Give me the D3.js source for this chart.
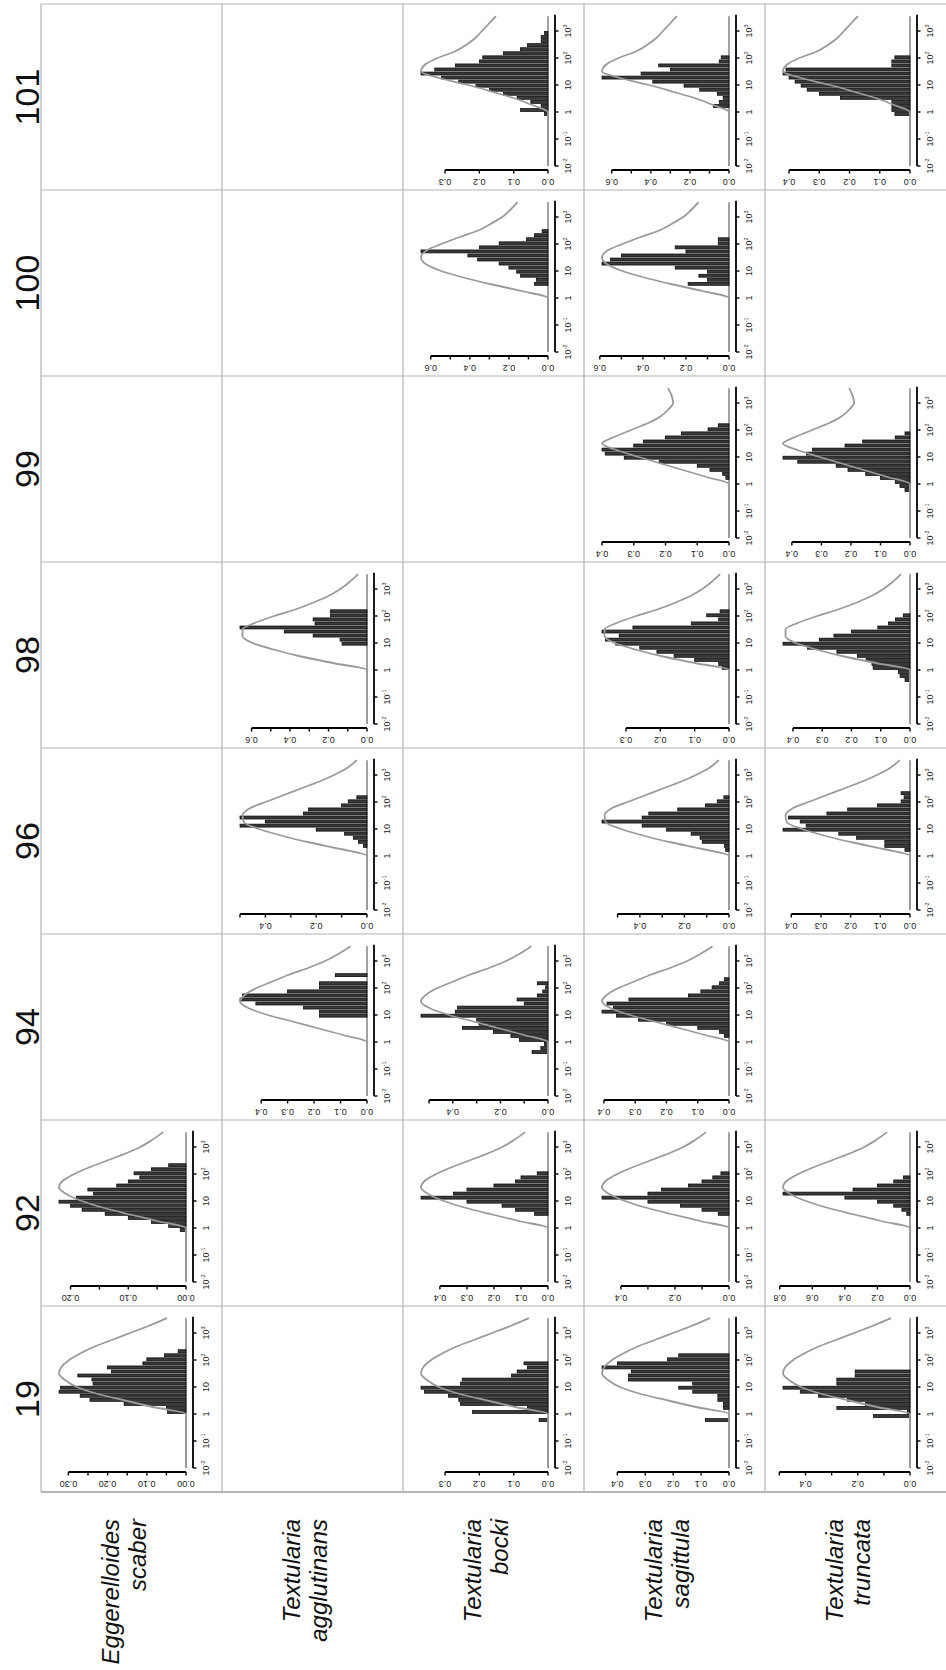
<!DOCTYPE html>
<html>
<head>
<meta charset="utf-8">
<script src="https://cdn.jsdelivr.net/npm/d3@7"></script>
<style>
  html, body { margin: 0; padding: 0; background: #fff; }
  svg { display: block; }
</style>
</head>
<body>
<svg id="fig" width="946" height="1670"></svg>
<script>
// ---- categories ----
const sites = ["19", "92", "94", "96", "98", "99", "100", "101"];
const speciesKeys = ["Egg", "agg", "boc", "sag", "tru"];
const speciesNames = [
  ["Eggerelloides", "scaber"],
  ["Textularia", "agglutinans"],
  ["Textularia", "bocki"],
  ["Textularia", "sagittula"],
  ["Textularia", "truncata"]
];

// ---- log grain-size axis ----
const logTicks = [-2, -1, 0, 1, 2, 3];
const logTickBase = ["10", "10", "1", "10", "10", "10"];
const logTickExp = ["-2", "-1", "", "", "2", "3"];
const binWidth = 0.15;          // histogram class width in log10 units
const logMin = -2, logMax = 3.55;

// ---- sediment grain-size curve per site (log10 size, relative height) ----
const curveLog = [0, 0.25, 0.5, 0.75, 1.0, 1.25, 1.5, 1.75, 2.0, 2.25, 2.5, 2.75, 3.0, 3.25, 3.55];
const curve19  = [0, 0.25, 0.48, 0.70, 0.86, 0.95, 1.00, 0.98, 0.92, 0.83, 0.72, 0.58, 0.44, 0.30, 0.15];
const curve92  = [0, 0.22, 0.44, 0.65, 0.82, 0.94, 1.00, 0.97, 0.88, 0.76, 0.62, 0.48, 0.36, 0.27, 0.18];
const curve94  = [0, 0.18, 0.38, 0.58, 0.78, 0.93, 1.00, 0.96, 0.87, 0.74, 0.61, 0.46, 0.33, 0.23, 0.13];
const curve96  = [0, 0.20, 0.45, 0.67, 0.85, 0.97, 0.98, 0.93, 0.80, 0.66, 0.52, 0.38, 0.26, 0.16, 0.08];
const curve98  = [0, 0.26, 0.52, 0.73, 0.90, 0.98, 0.98, 0.88, 0.73, 0.56, 0.42, 0.30, 0.21, 0.14, 0.07];
const curve99  = [0, 0.17, 0.35, 0.53, 0.71, 0.88, 1.00, 0.90, 0.77, 0.64, 0.54, 0.48, 0.44, 0.45, 0.48];
const curve100 = [0, 0.20, 0.44, 0.66, 0.84, 0.96, 1.00, 0.96, 0.84, 0.70, 0.55, 0.45, 0.36, 0.30, 0.24];
const curve101 = [0, 0.12, 0.26, 0.44, 0.63, 0.85, 1.00, 0.97, 0.87, 0.73, 0.64, 0.57, 0.52, 0.47, 0.41];
const siteCurves = {"19": curve19, "92": curve92, "94": curve94, "96": curve96,
                    "98": curve98, "99": curve99, "100": curve100, "101": curve101};

// ---- agglutinated grain histograms (density per class), first class start in log10 ----
const h19Egg = [0.047, 0.05, 0.158, 0.245, 0.27, 0.324, 0.32, 0.237, 0.24, 0.276, 0.19, 0.2, 0.11, 0.1, 0.055, 0.02];
const h19Boc = [0.026, 0, 0.22, 0.06, 0.255, 0.26, 0.29, 0.36, 0.37, 0.255, 0.25, 0.106, 0.09, 0.06, 0.07];
const h19Sag = [0.085, 0, 0, 0.02, 0.02, 0.04, 0.04, 0.13, 0.18, 0.13, 0.36, 0.36, 0.35, 0.455, 0.4, 0.22, 0.18];
const h19Tru = [0.14, 0.01, 0.28, 0.17, 0.24, 0.35, 0.42, 0.486, 0.28, 0.28, 0.21, 0.21];
const h92Egg = [0.01, 0.03, 0.06, 0.1, 0.14, 0.18, 0.2, 0.22, 0.19, 0.16, 0.17, 0.12, 0.1, 0.08, 0.09, 0.06, 0.03];
const h92Boc = [0.05, 0.12, 0.17, 0.3, 0.47, 0.35, 0.3, 0.2, 0.12, 0.1, 0.04];
const h92Sag = [0.04, 0.1, 0.18, 0.3, 0.47, 0.3, 0.25, 0.15, 0.1, 0.06, 0.03];
const h92Tru = [0.02, 0.05, 0.1, 0.2, 0.4, 0.78, 0.35, 0.2, 0.1, 0.04];
const h94Agg = [0.18, 0.18, 0.24, 0.42, 0.48, 0.47, 0.3, 0.18, 0.18, 0, 0.12];
const h94Boc = [0.067, 0.03, 0.015, 0.12, 0.156, 0.23, 0.36, 0.29, 0.3, 0.534, 0.39, 0.38, 0.1, 0.13, 0.045, 0.022, 0.01, 0.045];
const h94Sag = [0.015, 0.03, 0.1, 0.2, 0.29, 0.36, 0.406, 0.37, 0.39, 0.32, 0.13, 0.09, 0.054, 0.03, 0.015];
const h96Agg = [0.014, 0.034, 0.054, 0.088, 0.2, 0.5, 0.4, 0.5, 0.25, 0.23, 0.1, 0.074, 0.04];
const h96Sag = [0.015, 0.02, 0.12, 0.13, 0.17, 0.28, 0.39, 0.57, 0.39, 0.36, 0.23, 0.106, 0.053, 0.023];
const h96Tru = [0.017, 0.085, 0.085, 0.18, 0.24, 0.428, 0.35, 0.37, 0.41, 0.28, 0.21, 0.11, 0.03, 0.02, 0.03];
const h98Agg = [0.13, 0.14, 0.28, 0.43, 0.66, 0.27, 0.28, 0.19, 0.19];
const h98Sag = [0.02, 0.03, 0.1, 0.16, 0.21, 0.26, 0.33, 0.36, 0.32, 0.37, 0.28, 0.11, 0.03, 0.065, 0.026];
const h98Tru = [0.017, 0.034, 0.04, 0.126, 0.13, 0.15, 0.18, 0.25, 0.35, 0.434, 0.31, 0.26, 0.2, 0.11, 0.074, 0.05, 0.023];
const h99Sag = [0.01, 0.02, 0.06, 0.1, 0.22, 0.33, 0.39, 0.4, 0.3, 0.27, 0.2, 0.15, 0.066, 0.034];
const h99Tru = [0.017, 0.034, 0.05, 0.1, 0.15, 0.21, 0.25, 0.38, 0.43, 0.35, 0.33, 0.22, 0.16, 0.05, 0.017];
const h100Boc = [0.07, 0.06, 0.14, 0.16, 0.2, 0.25, 0.36, 0.41, 0.65, 0.35, 0.25, 0.11, 0.07, 0.03];
const h100Sag = [0.19, 0.1, 0.14, 0.1, 0.25, 0.59, 0.55, 0.5, 0.2, 0.25, 0.05, 0.05];
const h101Boc = [0.01, 0.08, 0.02, 0.05, 0.09, 0.13, 0.17, 0.21, 0.26, 0.31, 0.37, 0.33, 0.27, 0.2, 0.19, 0.13, 0.08, 0.06, 0.02, 0.02, 0.01];
const h101Sag = [0.08, 0.05, 0.03, 0.06, 0.15, 0.23, 0.39, 0.65, 0.45, 0.3, 0.36, 0.05, 0.04];
const h101Tru = [0.05, 0.06, 0.06, 0.06, 0.23, 0.3, 0.34, 0.36, 0.38, 0.4, 0.42, 0.41, 0.06, 0.06, 0.05];

// ---- density axis ticks and printed labels ----
const t005_020 = [0, 0.05, 0.10, 0.15, 0.20];
const t005_030 = [0, 0.05, 0.10, 0.15, 0.20, 0.25, 0.30];
const t01_03 = [0, 0.1, 0.2, 0.3];
const t01_04 = [0, 0.1, 0.2, 0.3, 0.4];
const t01_05 = [0, 0.1, 0.2, 0.3, 0.4, 0.5];
const t01_06 = [0, 0.1, 0.2, 0.3, 0.4, 0.5, 0.6];
const t02_08 = [0, 0.2, 0.4, 0.6, 0.8];
const l2dEgg20 = ["0.00", "", "0.10", "", "0.20"];
const l2dEgg30 = ["0.00", "", "0.10", "", "0.20", "", "0.30"];
const lAll3 = ["0.0", "0.1", "0.2", "0.3"];
const lAll4 = ["0.0", "0.1", "0.2", "0.3", "0.4"];
const lEven4 = ["0.0", "", "0.2", "", "0.4"];
const lEven5 = ["0.0", "", "0.2", "", "0.4", ""];
const lEven6 = ["0.0", "", "0.2", "", "0.4", "", "0.6"];
const lAll8 = ["0.0", "0.2", "0.4", "0.6", "0.8"];

// panel list: site, species, first class start (log10), densities, ticks, labels
const panels = [
  ["19", "Egg", 0.0,  h19Egg, t005_030, l2dEgg30],
  ["19", "boc", -0.3, h19Boc, t01_03, lAll3],
  ["19", "sag", -0.3, h19Sag, t01_04, lAll4],
  ["19", "tru", -0.15, h19Tru, t01_05, lEven5],
  ["92", "Egg", -0.15, h92Egg, t005_020, l2dEgg20],
  ["92", "boc", 0.45, h92Boc, t01_04, lAll4],
  ["92", "sag", 0.45, h92Sag, t01_04, lEven4],
  ["92", "tru", 0.45, h92Tru, t02_08, lAll8],
  ["94", "agg", 0.9,  h94Agg, t01_04, lAll4],
  ["94", "boc", -0.45, h94Boc, t01_05, lEven5],
  ["94", "sag", 0.15, h94Sag, t01_04, lAll4],
  ["96", "agg", 0.3,  h96Agg, t01_05, lEven5],
  ["96", "sag", 0.15, h96Sag, t01_05, lEven5],
  ["96", "tru", 0.15, h96Tru, t01_04, lAll4],
  ["98", "agg", 0.9,  h98Agg, t01_06, lEven6],
  ["98", "sag", 0.0,  h98Sag, t01_03, lAll3],
  ["98", "tru", -0.45, h98Tru, t01_04, lAll4],
  ["99", "sag", 0.15, h99Sag, t01_04, lAll4],
  ["99", "tru", -0.3, h99Tru, t01_04, lAll4],
  ["100", "boc", 0.45, h100Boc, t01_06, lEven6],
  ["100", "sag", 0.45, h100Sag, t01_06, lEven6],
  ["101", "boc", -0.15, h101Boc, t01_03, lAll3],
  ["101", "sag", 0.15, h101Sag, t01_06, lEven6],
  ["101", "tru", -0.15, h101Tru, t01_04, lAll4]
];

// ---- drawing (figure is laid out landscape and turned a quarter turn) ----
const W0 = 1670, H0 = 946;
const FONT = "'Liberation Sans', Arial, Helvetica, sans-serif";

const svg = d3.select("#fig");
const fig = svg.append("g").attr("transform", `translate(0,${W0}) rotate(-90)`);

const colScale = d3.scaleBand().domain(sites).range([178, 1666]);
const rowScale = d3.scaleBand().domain(speciesKeys).range([41, H0]);

// table grid
const gridCol = "#b4b4b4";
const grid = fig.append("g").attr("stroke", gridCol).attr("fill", "none");
const colEdges = sites.map(s => colScale(s)).concat([colScale.range()[1]]);
const rowEdges = speciesKeys.map(k => rowScale(k)).concat([H0]);
colEdges.forEach((x, i) => {
  grid.append("line").attr("x1", x).attr("x2", x).attr("y1", 41).attr("y2", H0)
    .attr("stroke-width", i === 0 ? 2.2 : 1.2);
});
rowEdges.slice(0, -1).forEach(y => {
  grid.append("line").attr("x1", 178).attr("x2", 1666).attr("y1", y).attr("y2", y)
    .attr("stroke-width", 1.2);
});

// site headings
fig.append("g").selectAll("text").data(sites).join("text")
  .attr("x", d => colScale(d) + colScale.bandwidth() / 2)
  .attr("y", 39)
  .attr("text-anchor", "middle")
  .attr("font-family", FONT)
  .attr("font-size", 34)
  .attr("fill", "#111")
  .text(d => d);

// species names
const spG = fig.append("g");
speciesKeys.forEach((k, j) => {
  const cy = rowScale(k) + rowScale.bandwidth() / 2;
  const t = spG.append("text")
    .attr("text-anchor", "end")
    .attr("font-family", FONT)
    .attr("font-style", "italic")
    .attr("font-size", 24)
    .attr("fill", "#111");
  t.append("tspan").attr("x", 151).attr("y", cy - 13).text(speciesNames[j][0]);
  t.append("tspan").attr("x", 151).attr("y", cy + 14).text(speciesNames[j][1]);
});

// one histogram panel
function drawPanel([site, sp, start, vals, ticks, labels]) {
  const X = colScale(site), Y = rowScale(sp);
  const ymax = d3.max(vals);
  const x = d3.scaleLog().domain([1e-2, 1e3]).range([X + 24, X + 159]);
  const y = d3.scaleLinear().domain([0, ymax]).range([Y + 145, Y + 18]);
  const g = fig.append("g");
  const edge = i => x(Math.pow(10, start + i * binWidth));

  // zero line
  g.append("line")
    .attr("x1", x(Math.pow(10, logMin))).attr("x2", x(Math.pow(10, logMax)))
    .attr("y1", y(0)).attr("y2", y(0))
    .attr("stroke", "#8a8a8a").attr("stroke-width", 1.6);

  // bars (thin light seam between neighbouring classes)
  const inset = 0.55;
  g.append("g").selectAll("rect").data(vals.map((v, i) => ({v, i})).filter(d => d.v > 0))
    .join("rect")
    .attr("x", d => edge(d.i) + inset)
    .attr("width", d => edge(d.i + 1) - edge(d.i) - 2 * inset)
    .attr("y", d => y(d.v))
    .attr("height", d => y(0) - y(d.v))
    .attr("fill", "#3a3a3a")
    .attr("stroke", "#000")
    .attr("stroke-width", 0.7);

  // sediment curve
  const prof = siteCurves[site];
  const pts = [[logMin, 0]].concat(curveLog.map((l, i) => [l, prof[i]]));
  const line = d3.line()
    .x(d => x(Math.pow(10, d[0])))
    .y(d => y(d[1] * ymax))
    .curve(d3.curveMonotoneX);
  g.append("path").attr("d", line(pts))
    .attr("fill", "none").attr("stroke", "#9a9a9a").attr("stroke-width", 1.8);

  // grain-size axis
  const axY = Y + 152;
  g.append("line").attr("x1", x(1e-2)).attr("x2", x(Math.pow(10, 3.6)))
    .attr("y1", axY).attr("y2", axY).attr("stroke", "#000").attr("stroke-width", 1.8);
  logTicks.forEach((t, i) => {
    const tx = x(Math.pow(10, t));
    g.append("line").attr("x1", tx).attr("x2", tx).attr("y1", axY).attr("y2", axY + 3.5)
      .attr("stroke", "#000").attr("stroke-width", 1.4);
    const lab = g.append("text").attr("x", tx).attr("y", Y + 168)
      .attr("text-anchor", "middle").attr("font-family", FONT)
      .attr("font-size", 9).attr("fill", "#222");
    lab.append("tspan").text(logTickBase[i]);
    if (logTickExp[i]) lab.append("tspan").attr("dy", -4).attr("font-size", 5.5).text(logTickExp[i]);
  });

  // density axis
  const vx = X + 20;
  const tmax = ticks[ticks.length - 1];
  g.append("line").attr("x1", vx).attr("x2", vx).attr("y1", y(0)).attr("y2", y(tmax))
    .attr("stroke", "#000").attr("stroke-width", 1.8);
  ticks.forEach((t, i) => {
    g.append("line").attr("x1", vx).attr("x2", vx - 3.5).attr("y1", y(t)).attr("y2", y(t))
      .attr("stroke", "#000").attr("stroke-width", 1.4);
    if (labels[i]) {
      g.append("text").attr("transform", `translate(${X + 11.5},${y(t)}) rotate(-90)`)
        .attr("text-anchor", "middle").attr("font-family", FONT)
        .attr("font-size", 9).attr("fill", "#222").text(labels[i]);
    }
  });
}
panels.forEach(drawPanel);
</script>
</body>
</html>
